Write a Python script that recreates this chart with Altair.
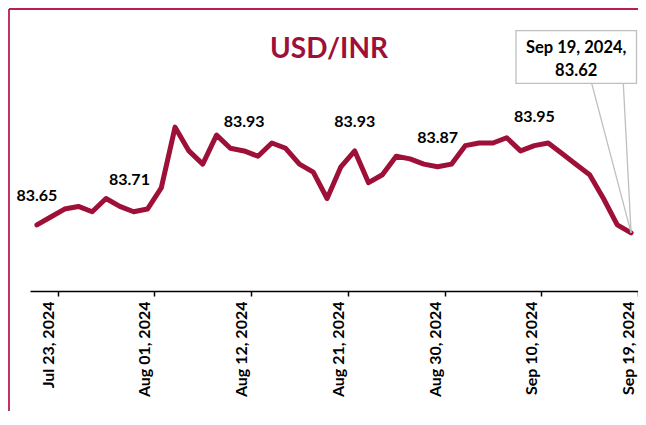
import altair as alt
import pandas as pd

# ---- data ----
dates = [
    "2024-07-22", "2024-07-23", "2024-07-24", "2024-07-25", "2024-07-26",
    "2024-07-29", "2024-07-30", "2024-07-31", "2024-08-01", "2024-08-02",
    "2024-08-05", "2024-08-06", "2024-08-07", "2024-08-08", "2024-08-09",
    "2024-08-12", "2024-08-13", "2024-08-14", "2024-08-15", "2024-08-16",
    "2024-08-19", "2024-08-20", "2024-08-21", "2024-08-22", "2024-08-23",
    "2024-08-26", "2024-08-27", "2024-08-28", "2024-08-29", "2024-08-30",
    "2024-09-02", "2024-09-03", "2024-09-04", "2024-09-05", "2024-09-06",
    "2024-09-09", "2024-09-10", "2024-09-11", "2024-09-12", "2024-09-13",
    "2024-09-16", "2024-09-17", "2024-09-18", "2024-09-19",
]
values = [
    83.65, 83.68, 83.71, 83.72, 83.70, 83.75, 83.72, 83.70, 83.71, 83.79,
    84.02, 83.93, 83.88, 83.99, 83.94, 83.93, 83.91, 83.96, 83.94, 83.88,
    83.85, 83.75, 83.87, 83.93, 83.81, 83.84, 83.91, 83.90, 83.88, 83.87,
    83.88, 83.95, 83.96, 83.96, 83.98, 83.93, 83.95, 83.96, 83.92, 83.88,
    83.84, 83.75, 83.65, 83.62,
]
label_points = [0, 15, 23, 29, 36]      # data labels drawn above the point
shifted_label_points = [8]              # data label moved left
tick_points = [1, 8, 15, 22, 29, 36, 43]
title_text = "USD/INR"
callout_lines = ["Sep 19, 2024,", "83.62"]

# ---- style ----
RED = "#9E1038"
FRAME = "#B81E4E"
GRAY = "#BFBFBF"
FONT = "Lato"

W, H = 608, 185
PL, PT, PR, PB = 22, 98, 0, 120
step = W / len(dates)

labels = pd.to_datetime(pd.Series(dates)).dt.strftime("%b %d, %Y").tolist()
df = pd.DataFrame({"idx": list(range(len(dates))), "date": labels, "value": values})
df["lbl"] = df["value"].map(lambda v: f"{v:.2f}")

label_expr = "[" + ",".join("'" + l + "'" for l in labels) + "][datum.value]"

xscale = alt.Scale(domain=[-0.5, len(dates) - 0.5], nice=False, zero=False)
yscale = alt.Scale(domain=[83.4, 84.1], nice=False, zero=False)

x_enc = alt.X(
    "idx:Q",
    scale=xscale,
    title=None,
    axis=alt.Axis(
        values=tick_points,
        labelExpr=label_expr,
        labelAngle=270,
        labelFont=FONT,
        labelFontSize=16,
        labelFontWeight="bold",
        labelColor="black",
        labelPadding=5,
        tickOffset=step / 2,
        labelOffset=-step / 2 - 2.5,
        tickSize=5,
        tickWidth=1.5,
        tickColor="black",
        domainColor="black",
        domainWidth=1.5,
        grid=False,
        labelOverlap=False,
    ),
)
y_enc = alt.Y("value:Q", scale=yscale, axis=None)

one = pd.DataFrame({"k": [0]})

frame_top = alt.Chart(one).mark_rule(color=FRAME, strokeWidth=1.8).encode(
    x=alt.value(-PL + 1), x2=alt.value(W + PR + 10), y=alt.value(-PT + 1)
)
frame_left = alt.Chart(one).mark_rule(color=FRAME, strokeWidth=1.8).encode(
    x=alt.value(-PL + 1), y=alt.value(-PT + 1), y2=alt.value(H + PB + 10)
)

line = alt.Chart(df).mark_line(
    color=RED, strokeWidth=5, strokeJoin="round", strokeCap="round"
).encode(x=x_enc, y=y_enc)

dlabels = alt.Chart(df[df["idx"].isin(label_points)]).mark_text(
    font=FONT, fontSize=16, fontWeight="bold", color="black",
    baseline="middle", dy=-29
).encode(x=alt.X("idx:Q", scale=xscale), y=alt.Y("value:Q", scale=yscale), text="lbl:N")

dlabels2 = alt.Chart(df[df["idx"].isin(shifted_label_points)]).mark_text(
    font=FONT, fontSize=16, fontWeight="bold", color="black",
    baseline="middle", dy=-29, dx=-18
).encode(x=alt.X("idx:Q", scale=xscale), y=alt.Y("value:Q", scale=yscale), text="lbl:N")

last = df.tail(1)
ptr1 = alt.Chart(last).mark_rule(color=GRAY, strokeWidth=1.3).encode(
    x=alt.X("idx:Q", scale=xscale), y=alt.Y("value:Q", scale=yscale),
    x2=alt.value(561.7), y2=alt.value(-22.7)
)
ptr2 = alt.Chart(last).mark_rule(color=GRAY, strokeWidth=1.3).encode(
    x=alt.X("idx:Q", scale=xscale), y=alt.Y("value:Q", scale=yscale),
    x2=alt.value(593.3), y2=alt.value(-22.7)
)
box = alt.Chart(one).mark_rect(fill="white", stroke=GRAY, strokeWidth=1.3).encode(
    x=alt.value(486), x2=alt.value(606.5), y=alt.value(-75.3), y2=alt.value(-22.7)
)
ct1 = alt.Chart(one).mark_text(
    font=FONT, fontSize=16.5, fontWeight="bold", color="black", baseline="middle", align="center"
).encode(x=alt.value(546.2), y=alt.value(-58), text=alt.value(callout_lines[0]))
ct2 = alt.Chart(one).mark_text(
    font=FONT, fontSize=16.5, fontWeight="bold", color="black", baseline="middle", align="center"
).encode(x=alt.value(546.2), y=alt.value(-35), text=alt.value(callout_lines[1]))

title = alt.Chart(one).mark_text(
    font=FONT, fontSize=28, fontWeight="bold", color=RED, baseline="middle", align="center"
).encode(x=alt.value(299), y=alt.value(-56), text=alt.value(title_text))

chart = alt.layer(
    frame_top, frame_left, line, dlabels, dlabels2, ptr1, ptr2, box, ct1, ct2, title
).properties(
    width=W, height=H,
    padding={"left": PL, "top": PT, "right": PR, "bottom": PB},
    autosize=alt.AutoSizeParams(type="none"),
).configure_view(strokeWidth=0)

chart.save("out.html", embed_options={"renderer": "svg", "actions": False})
